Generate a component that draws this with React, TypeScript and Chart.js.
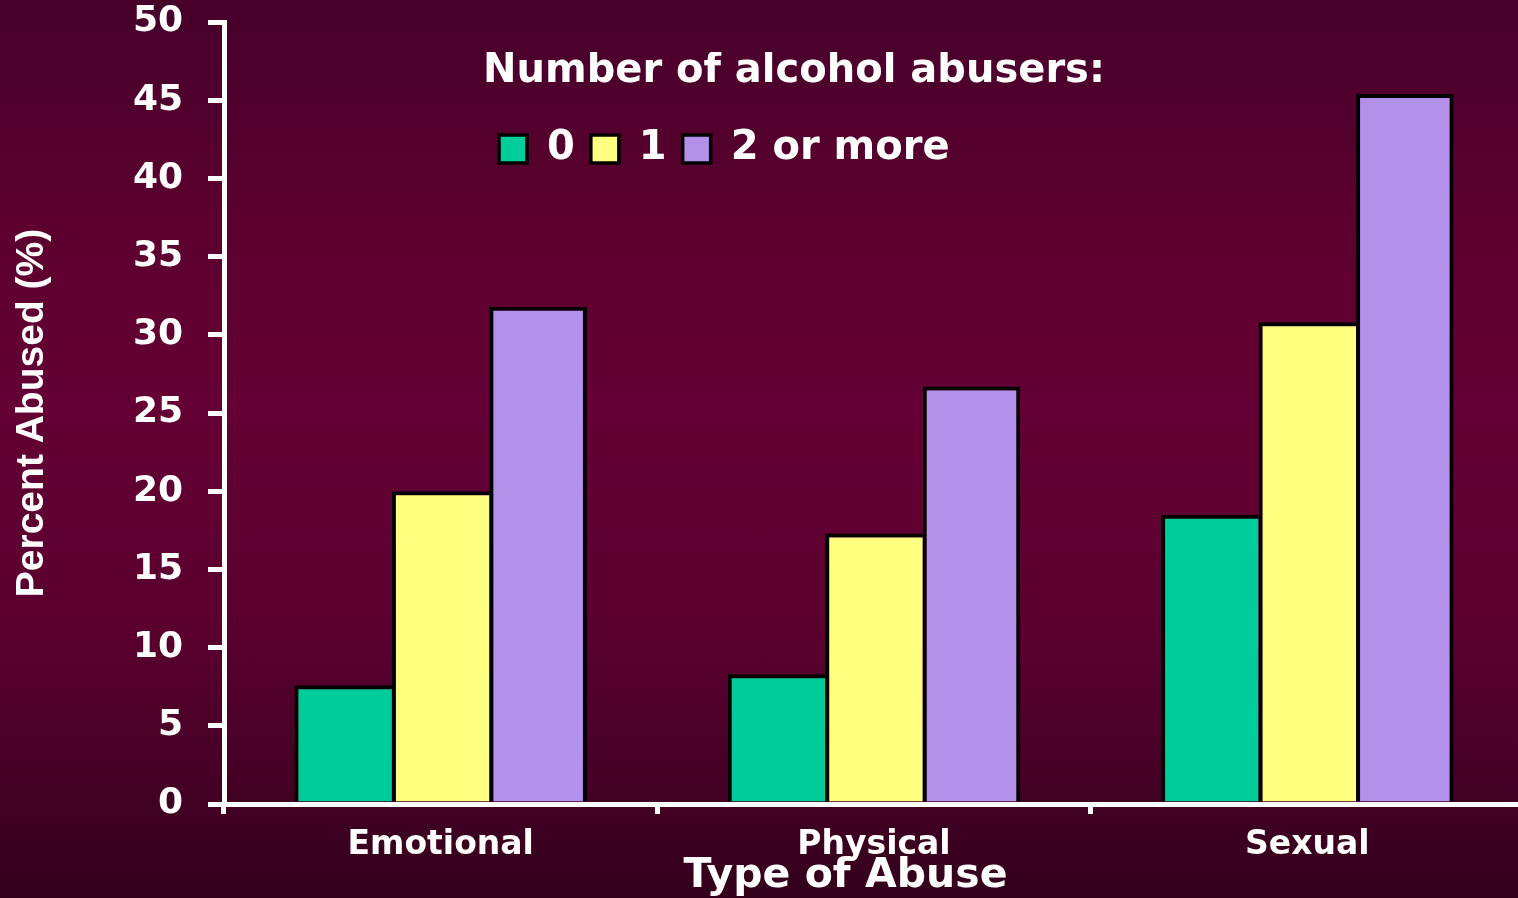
import React, { useEffect, useRef } from "react";
import { Chart, registerables } from "chart.js";

Chart.register(...registerables);

const categories = ["Emotional", "Physical", "Sexual"];
const seriesLabels = ["0", "1", "2 or more"];
const zeroAbusers = [7.6, 8.3, 18.5];
const oneAbuser = [20, 17.3, 30.8];
const twoOrMoreAbusers = [31.8, 26.7, 45.4];
const yMin = 0;
const yMax = 50;
const yStep = 5;
const legendTitle = "Number of alcohol abusers:";
const xAxisTitle = "Type of Abuse    ";
const yAxisTitle = "Percent Abused (%)";

const seriesColors = ["#00cc99", "#ffff80", "#b391eb"];

const legendPlacer = {
  id: "legendPlacer",
  afterLayout(chart: any) {
    const lg = chart.legend;
    if (!lg) return;
    lg.left = 483;
    lg.right = 1460;
    lg.top = 52;
    lg.bottom = 200;
    lg.width = lg.right - lg.left;
    lg.height = lg.bottom - lg.top;
  },
};

const bold = (size: number, family = "DejaVu Sans", lineHeight = 1.2) => ({
  family,
  size,
  weight: "bold" as const,
  lineHeight,
});

export default function App() {
  const ref = useRef<HTMLCanvasElement | null>(null);

  useEffect(() => {
    if (!ref.current) return;
    const sideBorder = { top: 4, left: 4, right: 0, bottom: 0 };
    const lastBorder = { top: 4, left: 4, right: 4, bottom: 0 };
    const values = [zeroAbusers, oneAbuser, twoOrMoreAbusers];
    const chart = new Chart(ref.current, {
      type: "bar",
      data: {
        labels: categories,
        datasets: values.map((data, i) => ({
          label: seriesLabels[i],
          data,
          backgroundColor: seriesColors[i],
          borderColor: "#000000",
          borderWidth: i === values.length - 1 ? lastBorder : sideBorder,
          categoryPercentage: 0.675,
          barPercentage: 1,
        })),
      },
      options: {
        responsive: false,
        maintainAspectRatio: false,
        animation: false,
        devicePixelRatio: 1,
        layout: { padding: { top: 21, left: 0, right: 0, bottom: 0 } },
        plugins: {
          tooltip: { enabled: false },
          legend: {
            display: true,
            position: "top",
            align: "start",
            maxHeight: 1,
            title: {
              display: true,
              text: legendTitle,
              color: "#ffffff",
              position: "start",
              font: bold(40),
              padding: { top: 0, bottom: 13 },
            },
            labels: {
              color: "#ffffff",
              font: bold(40),
              boxWidth: 28,
              boxHeight: 28,
              padding: 16,
              generateLabels: (c: any) =>
                (Chart.defaults.plugins.legend.labels as any)
                  .generateLabels(c)
                  .map((l: any) => ({ ...l, lineWidth: 3.5, strokeStyle: "#000000" })),
            },
          },
        },
        scales: {
          x: {
            type: "category",
            offset: true,
            z: 1,
            grid: {
              display: true,
              offset: true,
              drawOnChartArea: false,
              drawTicks: true,
              tickLength: 10,
              color: "#ffffff",
              lineWidth: 5,
            },
            border: { display: true, color: "#ffffff", width: 5 },
            ticks: {
              color: "#ffffff",
              font: bold(33),
              padding: 12,
              maxRotation: 0,
              autoSkip: false,
            },
            title: {
              display: true,
              text: xAxisTitle,
              color: "#ffffff",
              font: bold(41, "DejaVu Sans", 1),
              padding: { top: 0, bottom: 1 },
            },
            afterFit: (s: any) => {
              s.height = 94;
              s.paddingLeft = 0;
              s.paddingRight = 0;
            },
          },
          y: {
            min: yMin,
            max: yMax,
            z: 1,
            grid: {
              display: true,
              drawOnChartArea: false,
              drawTicks: true,
              tickLength: 16,
              color: "#ffffff",
              lineWidth: 5,
            },
            border: { display: true, color: "#ffffff", width: 5 },
            ticks: {
              stepSize: yStep,
              color: "#ffffff",
              font: bold(36),
              padding: 25,
            },
            title: {
              display: true,
              text: yAxisTitle,
              color: "#ffffff",
              font: bold(39, "Liberation Sans"),
              padding: { top: 9, bottom: 0 },
            },
            afterFit: (s: any) => {
              s.width = 224;
              s.paddingTop = 0;
              s.paddingBottom = 0;
            },
          },
        },
      },
      plugins: [legendPlacer],
    } as any);
    return () => chart.destroy();
  }, []);

  return (
    <div
      style={{
        position: "fixed",
        left: 0,
        top: 0,
        width: 1518,
        height: 898,
        overflow: "hidden",
        background:
          "linear-gradient(to bottom, #46002a 0%, #5c002f 25%, #640033 45%, #5a002f 70%, #33001b 100%)",
      }}
    >
      <canvas ref={ref} width={1524} height={898} style={{ display: "block" }} />
    </div>
  );
}
